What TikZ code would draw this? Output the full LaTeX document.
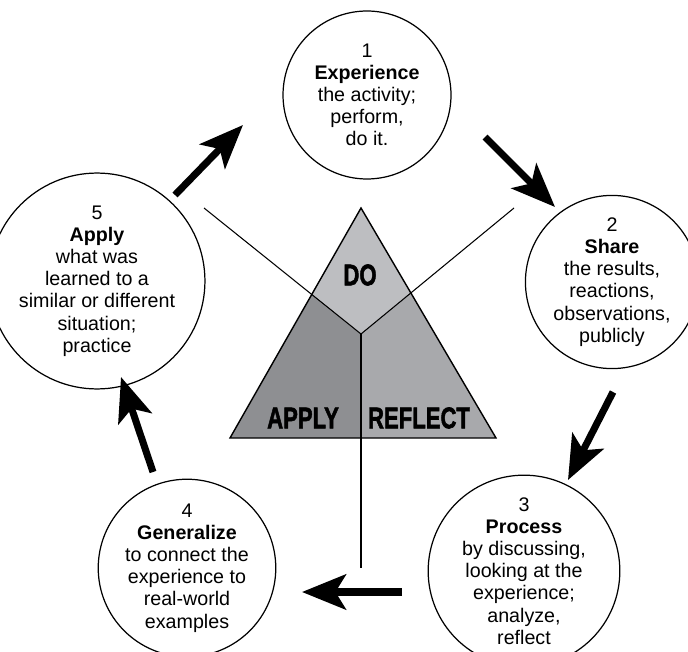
\documentclass[tikz,border=0pt]{standalone}
\usepackage{fontspec}
\setmainfont{Liberation Sans}
\newfontfamily\heavyfont{Liberation Sans}[BoldFeatures={FakeBold=2}]
\usetikzlibrary{arrows.meta,calc}
\definecolor{dogray}{RGB}{189,190,193}
\definecolor{applygray}{RGB}{142,143,146}
\definecolor{reflectgray}{RGB}{168,169,172}
\newcommand{\cond}[1]{\scalebox{0.74}[1]{#1}}
\begin{document}
\begin{tikzpicture}[x=0.02cm,y=-0.02cm,
    stage/.style={circle,draw,line width=0.7pt,minimum size=3.36cm,inner sep=0pt,
      align=center,font=\fontsize{11.2}{12.6}\selectfont},
    bigarrow/.style={line width=4pt,-{Stealth[length=25pt,width=20pt,inset=6pt]}},
    region/.style={font=\fontsize{17}{18}\selectfont\heavyfont\bfseries}]
        \useasboundingbox (0,0) rectangle (688,651);
        % the five stages
        \node[stage] (exp) at (367,95) {1\\\textbf{Experience}\\the activity;\\perform,\\do it.};
        \node[stage] (share) at (612,282) {2\\\textbf{Share}\\the results,\\reactions,\\observations,\\publicly};
        \node[stage] (proc) at (524,571) {3\\\textbf{Process}\\by discussing,\\looking at the\\experience;\\analyze,\\reflect};
        \node[stage] (gen) at (187,568) {4\\\textbf{Generalize}\\to connect the\\experience to\\real-world\\examples};
        \node[stage] (apply) at (97,281) {5\\\textbf{Apply}\\what was\\learned to a\\similar or different\\situation;\\practice};
        % triangle
        \coordinate (top) at (361,208);
        \coordinate (bl) at (230,438);
        \coordinate (br) at (496,438);
        \coordinate (bm) at (361,438);
        \coordinate (mid) at (361,334);
        \coordinate (sl) at ($(top)!0.375!(bl)$);
        \coordinate (sr) at ($(top)!0.37!(br)$);
        \fill[dogray] (top) -- (sl) -- (mid) -- (sr) -- cycle;
        \fill[applygray] (sl) -- (bl) -- (bm) -- (mid) -- cycle;
        \fill[reflectgray] (mid) -- (bm) -- (br) -- (sr) -- cycle;
        \draw[line width=0.8pt] (top) -- (bl) -- (br) -- cycle;
        \node[region] (do) at (360,275) {\cond{DO}};
        \node[region] (ap) at (303,418) {\cond{APPLY}};
        \node[region] (re) at (419,418) {\cond{REFLECT}};
        % spokes
        \coordinate (ll) at (204,208);
        \coordinate (rr) at (514,208);
        \coordinate (dd) at (361,568);
        \draw[line width=0.6pt] (ll) -- (mid) -- (rr);
        \draw[line width=0.6pt] (mid) -- (dd);
        % cycle arrows
        \coordinate (a1) at (175,195); \coordinate (b1) at (243,125);
        \coordinate (a2) at (485,137); \coordinate (b2) at (555,207);
        \coordinate (a3) at (613,392); \coordinate (b3) at (568,480);
        \coordinate (a4) at (402,592); \coordinate (b4) at (302,592);
        \coordinate (a5) at (153,472); \coordinate (b5) at (121,377);
        \draw[bigarrow] (a1) -- (b1);
        \draw[bigarrow] (a2) -- (b2);
        \draw[bigarrow] (a3) -- (b3);
        \draw[bigarrow] (a4) -- (b4);
        \draw[bigarrow] (a5) -- (b5);
      \end{tikzpicture}
\end{document}
